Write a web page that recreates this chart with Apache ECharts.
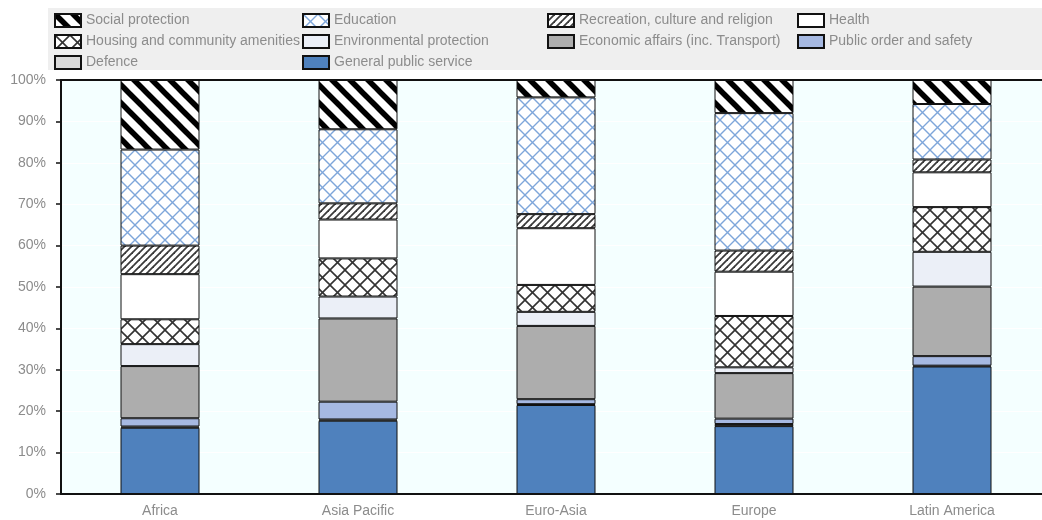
<!DOCTYPE html>
<html>
<head>
<meta charset="utf-8">
<script src="https://cdn.jsdelivr.net/npm/echarts@6/dist/echarts.min.js"></script>
<style>
  html, body { margin: 0; padding: 0; background: #ffffff; overflow: hidden; }
  /* plot runs slightly past the right edge of the window */
  #chart { width: 1051px; height: 520px; }
</style>
</head>
<body>
<div id="chart"></div>
<script>
// Regions on the x axis
const categories = ['Africa', 'Asia Pacific', 'Euro-Asia', 'Europe', 'Latin America'];

// Share of spending by function (% of total), bottom to top of each stack
const generalPublicService = [16.0, 17.7, 21.5, 16.4, 30.8];
const defence              = [0.3, 0.3, 0.2, 0.5, 0.2];
const publicOrderSafety    = [2.0, 4.3, 1.2, 1.3, 2.3];
const economicAffairs      = [12.6, 20.1, 17.7, 11.0, 16.8];
const environmental        = [5.3, 5.3, 3.4, 1.4, 8.4];
const housing              = [6.0, 9.2, 6.5, 12.4, 10.8];
const health               = [10.9, 9.4, 13.7, 10.7, 8.4];
const recreation           = [6.9, 3.9, 3.4, 5.1, 3.1];
const education            = [23.2, 17.9, 28.2, 33.2, 13.4];
const socialProtection     = [16.8, 11.9, 4.2, 8.0, 5.8];

// Value axis ticks
const yTicks = [0, 10, 20, 30, 40, 50, 60, 70, 80, 90, 100];

const FONT = "'Liberation Sans', Arial, sans-serif";
const GREY_TEXT = '#8c8c8c';

// ---- hatch pattern tiles ----
function tile(size, draw) {
  const c = document.createElement('canvas');
  c.width = size; c.height = size;
  const ctx = c.getContext('2d');
  ctx.fillStyle = '#ffffff';
  ctx.fillRect(0, 0, size, size);
  draw(ctx, size);
  return { image: c, repeat: 'repeat' };
}
function back(ctx, s, w, color) {      // "\" lines
  ctx.strokeStyle = color; ctx.lineWidth = w; ctx.lineCap = 'square';
  for (const o of [-s, 0, s]) {
    ctx.beginPath(); ctx.moveTo(o - 2, -2); ctx.lineTo(o + s + 2, s + 2); ctx.stroke();
  }
}
function fwd(ctx, s, w, color) {       // "/" lines
  ctx.strokeStyle = color; ctx.lineWidth = w; ctx.lineCap = 'square';
  for (const o of [-s, 0, s]) {
    ctx.beginPath(); ctx.moveTo(o - 2, s + 2); ctx.lineTo(o + s + 2, -2); ctx.stroke();
  }
}

const patSocial     = tile(18, (c, s) => back(c, s, 5.5, '#000000'));
const patEducation  = tile(15, (c, s) => { back(c, s, 1.4, '#7ea6da'); fwd(c, s, 1.4, '#7ea6da'); });
const patRecreation = tile(7,  (c, s) => fwd(c, s, 1.8, '#3a3a3a'));
const patHousing    = tile(15, (c, s) => { back(c, s, 1.6, '#333333'); fwd(c, s, 1.6, '#333333'); });

const stackDefs = [
  ['General public service', generalPublicService, '#4f81bd'],
  ['Defence', defence, '#d9d9d9'],
  ['Public order and safety', publicOrderSafety, '#a6b9e2'],
  ['Economic affairs (inc. Transport)', economicAffairs, '#adadad'],
  ['Environmental protection', environmental, '#ebeff7'],
  ['Housing and community amenities', housing, patHousing],
  ['Health', health, '#ffffff'],
  ['Recreation, culture and religion', recreation, patRecreation],
  ['Education', education, patEducation],
  ['Social protection', socialProtection, patSocial]
];

const series = stackDefs.map(([name, data, color]) => ({
  name: name,
  type: 'bar',
  stack: 'total',
  barWidth: 79,
  data: data,
  itemStyle: { color: color, borderColor: '#111111', borderWidth: 1 },
  emphasis: { disabled: true }
}));

// legend columns (rows read left to right)
const legendColumns = [
  { left: 54,  names: ['Social protection', 'Housing and community amenities', 'Defence'] },
  { left: 302, names: ['Education', 'Environmental protection', 'General public service'] },
  { left: 547, names: ['Recreation, culture and religion', 'Economic affairs (inc. Transport)'] },
  { left: 797, names: ['Health', 'Public order and safety'] }
];

const legend = legendColumns.map(col => ({
  orient: 'vertical',
  left: col.left,
  top: 13,
  padding: 0,
  icon: 'rect',
  itemWidth: 26,
  itemHeight: 13,
  itemGap: 6,
  selectedMode: false,
  data: col.names,
  textStyle: { color: GREY_TEXT, fontFamily: FONT, fontSize: 14 }
}));

const chart = echarts.init(document.getElementById('chart'), null, { renderer: 'canvas' });
chart.setOption({
  animation: false,
  backgroundColor: '#ffffff',
  graphic: [{
    type: 'rect', z: -10, silent: true,
    shape: { x: 48, y: 8, width: 1010, height: 62 },
    style: { fill: '#efefef' }
  }],
  legend: legend,
  grid: {
    left: 61, top: 80, right: 0, bottom: 26,
    show: true, backgroundColor: '#f4ffff', borderWidth: 0
  },
  xAxis: [{
    type: 'category',
    data: categories,
    axisLine: { lineStyle: { color: '#111111', width: 2 } },
    axisTick: { inside: true, length: 5, lineStyle: { color: '#111111', width: 1.5 } },
    axisLabel: { color: GREY_TEXT, fontFamily: FONT, fontSize: 14, margin: 10 }
  }, {
    // plain rule along the top of the plot
    type: 'category',
    position: 'top',
    data: categories,
    axisLine: { lineStyle: { color: '#111111', width: 2 } },
    axisTick: { show: false },
    axisLabel: { show: false }
  }],
  yAxis: {
    type: 'value',
    min: yTicks[0],
    max: yTicks[yTicks.length - 1],
    interval: yTicks[1] - yTicks[0],
    axisLine: { show: true, lineStyle: { color: '#111111', width: 2 } },
    axisTick: { show: true, length: 5, lineStyle: { color: '#111111', width: 1.5 } },
    axisLabel: { color: GREY_TEXT, fontFamily: FONT, fontSize: 14, margin: 15, formatter: '{value}%' },
    splitLine: { show: true, lineStyle: { color: '#ffffff', width: 1 } }
  },
  series: series
});
</script>
</body>
</html>
